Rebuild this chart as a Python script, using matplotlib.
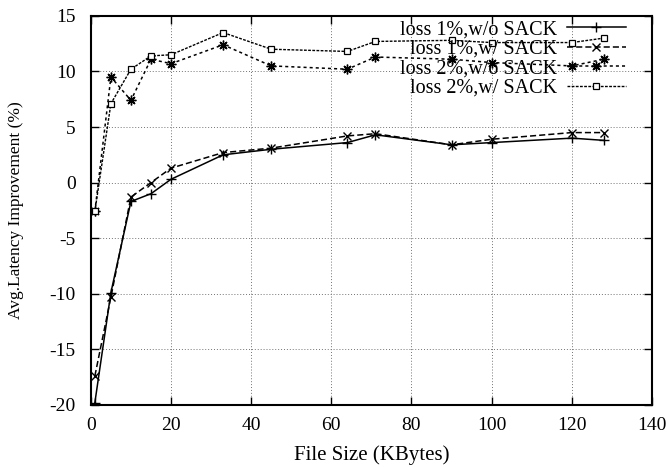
import matplotlib
matplotlib.use('Agg')
import matplotlib.pyplot as plt

## 데이터
file_size = [1, 5, 10, 15, 20, 33, 45, 64, 71, 90, 100, 120, 128]
loss1_wo_sack = [-19.8, -9.9, -1.7, -1.0, 0.3, 2.5, 3.0, 3.6, 4.3, 3.4, 3.6, 4.0, 3.8]
loss1_w_sack = [-17.4, -10.3, -1.3, 0.0, 1.3, 2.7, 3.1, 4.2, 4.4, 3.4, 3.9, 4.5, 4.5]
loss2_wo_sack = [-2.6, 9.5, 7.4, 11.1, 10.7, 12.4, 10.5, 10.2, 11.3, 11.1, 10.8, 10.5, 11.1]
loss2_w_sack = [-2.6, 7.1, 10.2, 11.4, 11.5, 13.5, 12.0, 11.8, 12.7, 12.8, 12.6, 12.6, 13.0]

labels = ['loss 1%,w/o SACK', 'loss 1%,w/ SACK', 'loss 2%,w/o SACK', 'loss 2%,w/ SACK']

plt.rcParams['font.family'] = ['Liberation Serif', 'DejaVu Serif']
plt.rcParams['axes.unicode_minus'] = False

fig = plt.figure(figsize=(6.68, 4.67), dpi=100)
ax = fig.add_axes([0.136, 0.133, 0.84, 0.833])

ax.plot(file_size, loss1_wo_sack, color='black', lw=1.1, ls='-',
        marker='+', ms=7, mew=1, label=labels[0])
ax.plot(file_size, loss1_w_sack, color='black', lw=1.1, ls=(0, (4, 2)),
        marker='x', ms=6, mew=1, label=labels[1])
ax.plot(file_size, loss2_wo_sack, color='black', lw=1.1, ls=(0, (2, 2)),
        marker=(8, 2, 0), ms=7, mew=1, label=labels[2])
ax.plot(file_size, loss2_w_sack, color='black', lw=1.0, ls=(0, (2, 1)),
        marker='s', ms=5, mew=0.9, mfc='white', label=labels[3])

ax.set_xlim(0, 140)
ax.set_ylim(-20, 15)
ax.set_xticks(range(0, 141, 20))
ax.set_yticks(range(-20, 16, 5))

## 격자와 눈금
ax.grid(True, color='0.45', ls=(0, (1, 2)), lw=0.7)
ax.tick_params(direction='in', length=6, width=1, top=True, right=True,
               labelsize=14)
ax.tick_params(axis='x', pad=9)
ax.tick_params(axis='y', pad=11)
for s in ax.spines.values():
    s.set_linewidth(1.5)

ax.set_xlabel('File Size (KBytes)', fontsize=15, labelpad=8)
ax.set_ylabel('Avg.Latency Improvement (%)', fontsize=12.5, labelpad=18)

ax.legend(loc='upper right', bbox_to_anchor=(0.978, 1.025), frameon=False,
          markerfirst=False, fontsize=14.5, labelspacing=0.02,
          handlelength=2.9, handletextpad=0.5, borderpad=0.2)

fig.savefig('out.png', dpi=100)
